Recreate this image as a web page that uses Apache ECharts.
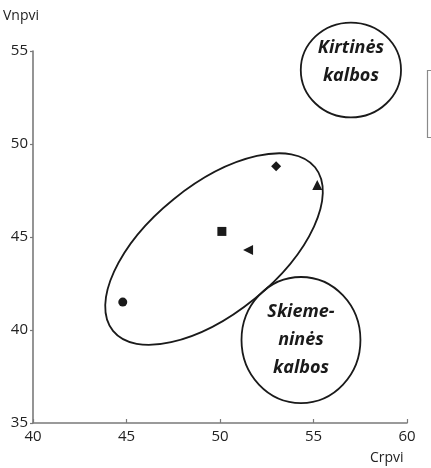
<!DOCTYPE html>
<html>
<head>
<meta charset="utf-8">
<script src="https://cdn.jsdelivr.net/npm/echarts@6/dist/echarts.min.js"></script>
<style>html,body{margin:0;padding:0;background:#fff}#c{width:431px;height:468px}</style>
</head>
<body>
<div id="c"></div>
<script>
var xName = 'Crpvi';
var yName = 'Vnpvi';
var xTicks = [40, 45, 50, 55, 60];
var yTicks = [35, 40, 45, 50, 55];
var pointX = [44.8, 50.1, 51.5, 53.0, 55.2];
var pointY = [41.5, 45.3, 44.3, 48.8, 47.8];
var pointSymbols = ['circle', 'rect', 'triangle', 'diamond', 'triangle'];
var pointRotate = [0, 0, 90, 0, 0];
var groupLabels = [['Kirtinės', 'kalbos'], ['Skieme-', 'ninės', 'kalbos'], []];
var groupCenterX = [57.0, 54.33, 49.68];
var groupCenterY = [53.98, 39.46, 44.35];

// annotation geometry (data units) – shapes, not data
var groupShape = [
  {rx: 2.68, ry: 2.55, rot: 0, dy: -8},
  {rx: 3.18, ry: 3.39, rot: 0, dy: 0},
  {rx: 6.95, ry: 3.45, rot: 39, dy: 0}
];

var chart = echarts.init(document.getElementById('c'));
var scatterData = pointX.map(function (x, i) {
  return {value: [x, pointY[i]], symbol: pointSymbols[i], symbolRotate: pointRotate[i],
          symbolSize: pointSymbols[i] === 'triangle' ? 10 : (pointSymbols[i] === 'diamond' ? 10 : 9)};
});
var ellData = groupCenterX.map(function (x, i) { return [x, groupCenterY[i], i]; });
var FONT = '"Open Sans", "Noto Sans", sans-serif';

chart.setOption({
  animation: false,
  grid: {left: 33, right: 24, top: 51, bottom: 45},
  xAxis: {
    type: 'value', min: xTicks[0], max: xTicks[xTicks.length - 1], interval: 5,
    splitLine: {show: false},
    axisLine: {lineStyle: {color: '#7a7a7a', width: 1.6}},
    axisTick: {inside: true, length: 4, lineStyle: {color: '#7a7a7a', width: 1.2}},
    axisLabel: {color: '#222', fontSize: 15, fontFamily: FONT, margin: 6}
  },
  yAxis: {
    type: 'value', min: yTicks[0], max: yTicks[yTicks.length - 1], interval: 5,
    splitLine: {show: false},
    axisLine: {show: true, lineStyle: {color: '#7a7a7a', width: 1.6}},
    axisTick: {show: true, length: 3, lineStyle: {color: '#7a7a7a', width: 1.2}},
    axisLabel: {color: '#222', fontSize: 15, fontFamily: FONT, margin: 5}
  },
  graphic: [
    {type: 'text', left: 3, top: 9, style: {text: yName, fill: '#222', font: '14px ' + FONT}},
    {type: 'text', left: 370, top: 451, style: {text: xName, fill: '#222', font: '14px ' + FONT}},
    {type: 'rect', shape: {x: 427.5, y: 70.5, width: 30, height: 67}, style: {fill: 'none', stroke: '#8a8a8a', lineWidth: 1.2}}
  ],
  series: [
    {
      type: 'custom',
      coordinateSystem: 'cartesian2d',
      clip: false,
      silent: true,
      data: ellData,
      renderItem: function (params, api) {
        var i = api.value(2);
        var c = api.coord([api.value(0), api.value(1)]);
        var s = api.size([1, 1]);
        var sh = groupShape[i];
        var children = [{
          type: 'ellipse',
          x: c[0], y: c[1],
          rotation: sh.rot * Math.PI / 180,
          shape: {cx: 0, cy: 0, rx: sh.rx * s[0], ry: sh.ry * s[1]},
          style: {fill: 'none', stroke: '#1a1a1a', lineWidth: 1.8}
        }];
        var lines = groupLabels[i];
        var lh = 28;
        lines.forEach(function (t, k) {
          children.push({
            type: 'text',
            x: c[0], y: c[1] + sh.dy + (k - (lines.length - 1) / 2) * lh,
            style: {text: t, fill: '#1a1a1a', font: 'italic bold 18px ' + FONT,
                    textAlign: 'center', textVerticalAlign: 'middle'}
          });
        });
        return {type: 'group', children: children};
      },
      z: 1
    },
    {
      type: 'scatter',
      data: scatterData,
      itemStyle: {color: '#1a1a1a', opacity: 1},
      z: 3
    }
  ]
});
</script>
</body>
</html>
